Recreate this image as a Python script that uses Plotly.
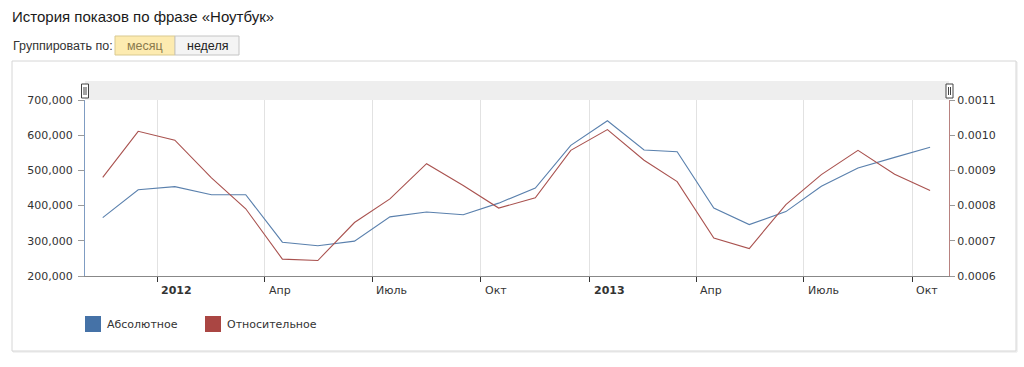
import plotly.graph_objects as go

# ---- data ----
months = ["2011-11", "2011-12", "2012-01", "2012-02", "2012-03", "2012-04",
          "2012-05", "2012-06", "2012-07", "2012-08", "2012-09", "2012-10",
          "2012-11", "2012-12", "2013-01", "2013-02", "2013-03", "2013-04",
          "2013-05", "2013-06", "2013-07", "2013-08", "2013-09", "2013-10"]
absolute = [366000, 445000, 454000, 431000, 431000, 296000, 286000, 299000,
            368000, 382000, 374000, 407000, 450000, 571000, 641000, 558000,
            553000, 393000, 346000, 383000, 455000, 507000, 537000, 566000]
relative = [0.000880, 0.001011, 0.000986, 0.000879, 0.000791, 0.000648,
            0.000644, 0.000752, 0.000819, 0.000919, 0.000857, 0.000793,
            0.000822, 0.000957, 0.001016, 0.000929, 0.000868, 0.000708,
            0.000678, 0.000803, 0.000888, 0.000957, 0.000889, 0.000843]
tick_dates = ["2012-01-01", "2012-04-01", "2012-07-01", "2012-10-01",
              "2013-01-01", "2013-04-01", "2013-07-01", "2013-10-01"]
tick_labels = ["<b>2012</b>", "Апр", "Июль", "Окт",
               "<b>2013</b>", "Апр", "Июль", "Окт"]
series_names = ["Абсолютное", "Относительное"]
series_colors = ["#4572A7", "#AA4643"]
line_colors = ["#5a80ad", "#a9524f"]

dates = [m + "-16" for m in months]

W, H = 1024, 367
L, R, T, B = 85, 75, 100, 91
PW, PH = W - L - R, H - T - B


def px(x):
    return (x - L) / PW


def py(y):
    return (H - B - y) / PH


fig = go.Figure()
fig.add_trace(go.Scatter(x=dates, y=absolute, mode="lines", name=series_names[0],
                         line=dict(color=line_colors[0], width=1.1), yaxis="y"))
fig.add_trace(go.Scatter(x=dates, y=relative, mode="lines", name=series_names[1],
                         line=dict(color=line_colors[1], width=1.1), yaxis="y2"))

axis_font = dict(family="DejaVu Sans", size=11, color="#333333")
shapes = []
annotations = []

# outer box
shapes.append(dict(type="rect", xref="paper", yref="paper",
                   x0=px(13), x1=px(1017), y0=py(352), y1=py(62),
                   line=dict(color="#e6e6e6", width=1), fillcolor="rgba(0,0,0,0)", layer="below"))
shapes.append(dict(type="rect", xref="paper", yref="paper",
                   x0=px(12), x1=px(1016), y0=py(351), y1=py(61),
                   line=dict(color="#d6d6d6", width=1), fillcolor="white", layer="below"))
# gray navigator band
shapes.append(dict(type="rect", xref="paper", yref="paper",
                   x0=0, x1=1, y0=1, y1=py(81),
                   line=dict(width=0), fillcolor="#eeeeee", layer="below"))
# handles
for hx in (85, 949.5):
    shapes.append(dict(type="rect", xref="paper", yref="paper",
                       x0=px(hx - 3.5), x1=px(hx + 3.5), y0=py(98), y1=py(84),
                       line=dict(color="#444444", width=1), fillcolor="white"))
    for dx in (-1, 1):
        shapes.append(dict(type="line", xref="paper", yref="paper",
                           x0=px(hx + dx), x1=px(hx + dx), y0=py(95), y1=py(87),
                           line=dict(color="#444444", width=1)))

# x tick labels (left aligned after the tick)
for d, lab in zip(tick_dates, tick_labels):
    annotations.append(dict(x=d, xref="x", y=py(290), yref="paper", text=lab,
                            showarrow=False, xanchor="left", yanchor="middle",
                            xshift=2, font=axis_font))

# legend
for i, (name, col) in enumerate(zip(series_names, series_colors)):
    x0 = 85 + i * 120
    shapes.append(dict(type="rect", xref="paper", yref="paper",
                       x0=px(x0), x1=px(x0 + 16), y0=py(332), y1=py(316),
                       line=dict(width=0), fillcolor=col))
    annotations.append(dict(x=px(x0 + 20), xref="paper", y=py(324), yref="paper",
                            text=name, showarrow=False, xanchor="left", yanchor="middle",
                            font=axis_font))

# header texts
annotations.append(dict(x=px(10), y=py(17), xref="paper", yref="paper",
                        text="История показов по фразе «Ноутбук»", showarrow=False,
                        xanchor="left", yanchor="middle",
                        font=dict(family="Liberation Sans", size=15, color="#1a1a1a")))
annotations.append(dict(x=px(11), y=py(46), xref="paper", yref="paper",
                        text="Группировать по:", showarrow=False,
                        xanchor="left", yanchor="middle",
                        font=dict(family="Liberation Sans", size=12.5, color="#333333")))
# buttons
shapes.append(dict(type="rect", xref="paper", yref="paper",
                   x0=px(115), x1=px(175), y0=py(55), y1=py(36),
                   line=dict(color="#d9c98f", width=1), fillcolor="#fdebb0"))
shapes.append(dict(type="rect", xref="paper", yref="paper",
                   x0=px(175), x1=px(239), y0=py(55), y1=py(36),
                   line=dict(color="#c4c4c4", width=1), fillcolor="#f4f4f4"))
annotations.append(dict(x=px(145), y=py(46), xref="paper", yref="paper",
                        text="месяц", showarrow=False, xanchor="center", yanchor="middle",
                        font=dict(family="Liberation Sans", size=12.5, color="#8a7a4c")))
annotations.append(dict(x=px(207), y=py(46), xref="paper", yref="paper",
                        text="неделя", showarrow=False, xanchor="center", yanchor="middle",
                        font=dict(family="Liberation Sans", size=12.5, color="#222222")))

fig.update_layout(
    width=W, height=H,
    margin=dict(l=L, r=R, t=T, b=B, pad=0),
    paper_bgcolor="white", plot_bgcolor="white",
    showlegend=False,
    xaxis=dict(type="date", range=["2011-11-01", "2013-11-01"],
               tickvals=tick_dates, showticklabels=False,
               ticks="outside", ticklen=5, tickcolor="#333333",
               showgrid=True, gridcolor="#e2e2e2", gridwidth=1,
               showline=True, linecolor="#888888", linewidth=1, zeroline=False),
    yaxis=dict(range=[200000, 700000], dtick=100000, tickformat=",d",
               ticks="outside", ticklen=6, tickcolor="#9a9a9a",
               ticklabelstandoff=3,
               showgrid=False, zeroline=False, showline=True,
               linecolor="#7f9cc2", linewidth=1, tickfont=axis_font),
    yaxis2=dict(range=[0.0006, 0.0011], dtick=0.0001, tickformat=".4f",
                overlaying="y", side="right",
                ticks="outside", ticklen=5, tickcolor="#9a9a9a",
                showgrid=False, zeroline=False, showline=True,
                linecolor="#b88280", linewidth=1, tickfont=axis_font),
    shapes=shapes, annotations=annotations,
)

fig.write_html("out.html", config={"displayModeBar": False},
               post_script="document.body.style.margin='0';")
